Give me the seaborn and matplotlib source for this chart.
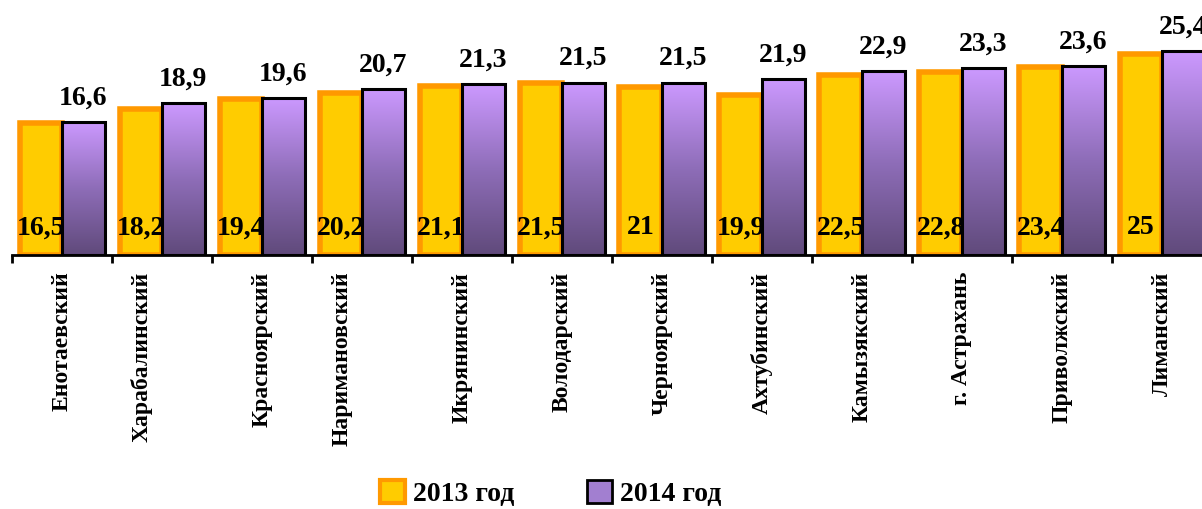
import numpy as np
import pandas as pd
import seaborn as sns
import matplotlib.pyplot as plt
from matplotlib.patches import Patch
from matplotlib.colors import LinearSegmentedColormap
from matplotlib.transforms import ScaledTranslation

districts = ['Енотаевский', 'Харабалинский', 'Красноярский', 'Наримановский',
             'Икрянинский', 'Володарский', 'Черноярский', 'Ахтубинский',
             'Камызякский', 'г. Астрахань', 'Приволжский', 'Лиманский']
v2013 = [16.5, 18.2, 19.4, 20.2, 21.1, 21.5, 21, 19.9, 22.5, 22.8, 23.4, 25]
v2014 = [16.6, 18.9, 19.6, 20.7, 21.3, 21.5, 21.5, 21.9, 22.9, 23.3, 23.6, 25.4]
years = ['2013 год', '2014 год']

df = pd.DataFrame({
    'district': districts * 2,
    'value': v2013 + v2014,
    'year': [years[0]] * len(districts) + [years[1]] * len(districts),
})

sns.set_style('white')
plt.rcParams['font.family'] = ['Liberation Serif', 'DejaVu Serif']
plt.rcParams['font.weight'] = 'bold'
plt.rcParams['text.color'] = 'black'
plt.rcParams['xtick.color'] = 'black'

fig = plt.figure(figsize=(12.02, 5.09), dpi=100)
ax = fig.add_axes([12 / 1202, 254 / 509, 1200 / 1202, 240.6 / 509])

sns.barplot(data=df, x='district', y='value', hue='year',
            palette=['#FFCC00', '#CC99FF'], width=0.85, saturation=1,
            legend=False, ax=ax)

gold_bars, purple_bars = ax.containers[0], ax.containers[1]
for b in gold_bars:
    b.set_edgecolor('#FF9900')
    b.set_linewidth(4)
    b.set_zorder(2)

# purple bars get a vertical gradient like the original
grad = LinearSegmentedColormap.from_list('pg', ['#604A7B', '#8E6DB8', '#CC99FF'])
g = np.linspace(0, 1, 256).reshape(-1, 1)
for b in purple_bars:
    b.set_facecolor('none')
    b.set_edgecolor('black')
    b.set_linewidth(2.2)
    b.set_zorder(4)
    x0, y0 = b.get_x(), b.get_y()
    im = ax.imshow(g, cmap=grad, origin='lower', aspect='auto',
                   extent=[x0, x0 + b.get_width(), y0, y0 + b.get_height()],
                   zorder=3)
    im.set_clip_path(b)

ax.set_xlim(-0.5, len(districts) - 0.5)
ax.set_ylim(0, 30)

# value labels
for b, v in zip(gold_bars, v2013):
    ax.annotate(f'{v:g}'.replace('.', ','), (b.get_x() + b.get_width() / 2, 0),
                xytext=(0, 27), textcoords='offset pixels', ha='center', va='center',
                fontsize=20, fontweight='bold', zorder=6, annotation_clip=False)
for b, v in zip(purple_bars, v2014):
    ax.annotate(f'{v:g}'.replace('.', ','), (b.get_x() + b.get_width() / 2, b.get_height()),
                xytext=(0, 24), textcoords='offset pixels', ha='center', va='center',
                fontsize=20, fontweight='bold', zorder=6, annotation_clip=False)

# axes: only the bottom line with boundary ticks
for s in ['left', 'right', 'top']:
    ax.spines[s].set_visible(False)
ax.spines['bottom'].set_linewidth(2)
ax.spines['bottom'].set_color('black')
ax.spines['bottom'].set_zorder(5)
ax.set_yticks([])
ax.set_xlabel('')
ax.set_ylabel('')
ax.set_xticks(np.arange(-0.5, len(districts), 1.0))
ax.set_xticklabels([])
ax.tick_params(axis='x', which='major', direction='out', length=6, width=2,
               color='black', bottom=True)
ax.set_xticks(np.arange(len(districts)), minor=True)
ax.set_xticklabels(districts, minor=True, rotation=90, fontsize=17,
                   fontweight='bold', va='top', ha='center')
ax.tick_params(axis='x', which='minor', length=0, pad=12)

# the two long names sit a bit left of centre in the original
shift = ScaledTranslation(-0.2, 0, fig.dpi_scale_trans)
for lbl in ax.get_xticklabels(minor=True):
    if lbl.get_text() in ('Харабалинский', 'Наримановский'):
        lbl.set_transform(lbl.get_transform() + shift)

handles = [Patch(facecolor='#FFCC00', edgecolor='#FF9900', linewidth=3),
           Patch(facecolor='#A27FD0', edgecolor='black', linewidth=2)]
fig.legend(handles, years, loc='lower center', bbox_to_anchor=(0.458, -0.045),
           ncol=2, frameon=False, prop={'size': 20, 'weight': 'bold'},
           handlelength=0.9, handleheight=0.9, handletextpad=0.3, columnspacing=2.6)

fig.savefig('out.png', dpi=100)
